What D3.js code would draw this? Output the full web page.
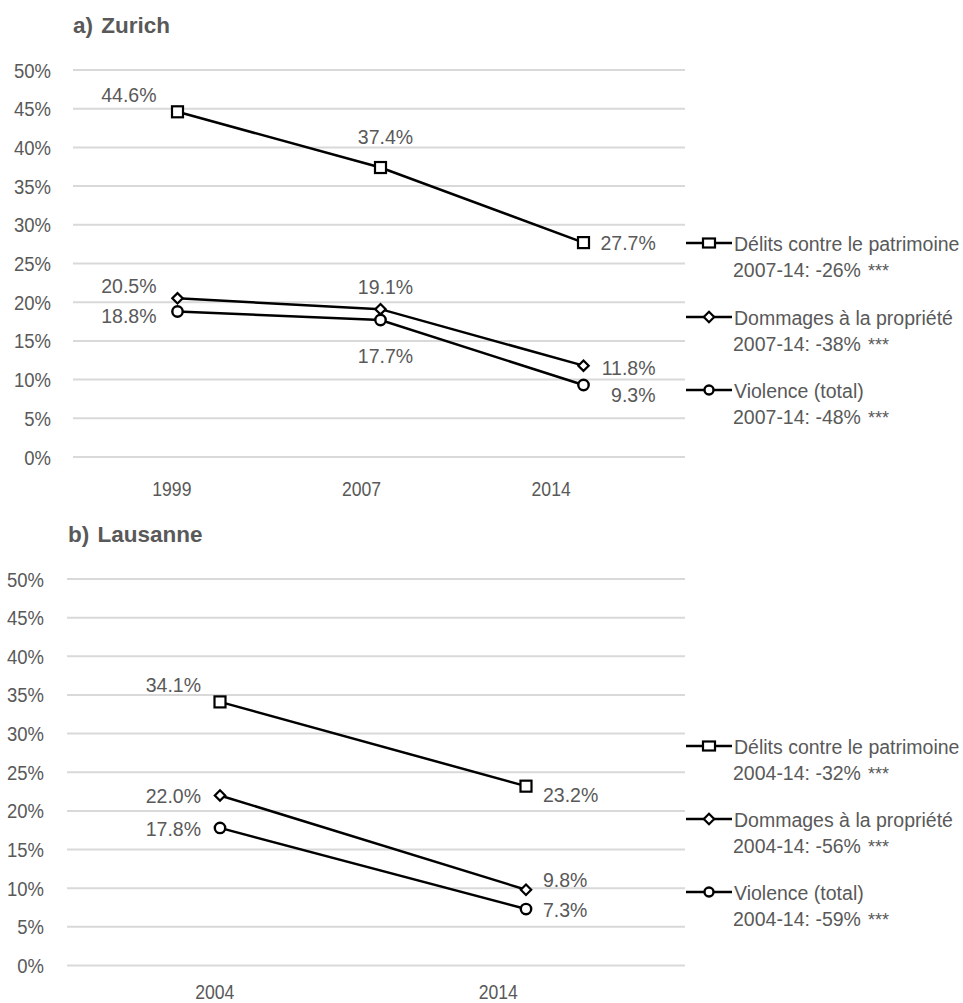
<!DOCTYPE html>
<html>
<head>
<meta charset="utf-8">
<script src="https://cdn.jsdelivr.net/npm/d3@7/dist/d3.min.js"></script>
<style>
  html, body { margin: 0; padding: 0; background: #fff; }
  svg { display: block; }
  text { font-family: "Liberation Sans", Arial, sans-serif; fill: #595959; }
  .title { font-weight: bold; }
</style>
</head>
<body>
<svg id="chart" width="963" height="1003"></svg>
<script>
// ---- data ----
const zurichYears = ["1999", "2007", "2014"];
const zurichProperty = [44.6, 37.4, 27.7];
const zurichDamage = [20.5, 19.1, 11.8];
const zurichViolence = [18.8, 17.7, 9.3];

const lausanneYears = ["2004", "2014"];
const lausanneProperty = [34.1, 23.2];
const lausanneDamage = [22.0, 9.8];
const lausanneViolence = [17.8, 7.3];

const yTicks = [0, 5, 10, 15, 20, 25, 30, 35, 40, 45, 50];
const seriesNames = ["Délits contre le patrimoine", "Dommages à la propriété", "Violence (total)"];
const zurichChange = ["2007-14: -26%", "2007-14: -38%", "2007-14: -48%"];
const lausanneChange = ["2004-14: -32%", "2004-14: -56%", "2004-14: -59%"];
const significance = ["***", "***", "***"];

const svg = d3.select("#chart");
const fmt = v => v.toFixed(1) + "%";

function marker(g, shape, x, y, legend) {
  if (shape === "square") {
    const w = legend ? 12 : 11, h = legend ? 9 : 11;
    g.append("rect").attr("x", x - w / 2).attr("y", y - h / 2).attr("width", w).attr("height", h)
      .attr("fill", "#fff").attr("stroke", "#000").attr("stroke-width", 2.2);
  } else if (shape === "diamond") {
    const s = 5.2;
    g.append("path").attr("d", `M${x},${y - s}L${x + s},${y}L${x},${y + s}L${x - s},${y}Z`)
      .attr("fill", "#fff").attr("stroke", "#000").attr("stroke-width", 2.2);
  } else {
    g.append("circle").attr("cx", x).attr("cy", y).attr("r", legend ? 4.5 : 5.2)
      .attr("fill", "#fff").attr("stroke", "#000").attr("stroke-width", 2.4);
  }
}

function drawPanel(cfg) {
  const g = svg.append("g");
  const y = d3.scaleLinear().domain([0, 50]).range([cfg.yBottom, cfg.yTop]);
  const x = d3.scaleBand().domain(cfg.years).range([cfg.plotLeft, cfg.plotRight]);
  const xLabel = d3.scaleBand().domain(cfg.years).range(cfg.labelRange);
  const cx = d => x(d) + x.bandwidth() / 2;

  // title
  g.append("text").attr("class", "title").attr("x", cfg.titleX).attr("y", cfg.titleY)
    .attr("font-size", 22.5).attr("word-spacing", 2).text(cfg.title);

  // gridlines
  g.selectAll(".grid").data(yTicks).join("line")
    .attr("x1", cfg.gridLeft).attr("x2", cfg.gridRight)
    .attr("y1", d => y(d)).attr("y2", d => y(d))
    .attr("stroke", "#d9d9d9").attr("stroke-width", 2);

  // y axis labels
  const yAxis = d3.axisLeft(y).tickValues(yTicks).tickFormat(d => d + "%").tickSize(0);
  const ya = g.append("g").attr("transform", `translate(${cfg.yLabelX},0)`).call(yAxis);
  ya.attr("font-family", null).attr("font-size", null);
  ya.select(".domain").remove();
  ya.selectAll("text").attr("x", 0).attr("dy", "0.36em").attr("font-size", 19.5)
    .attr("fill", "#595959").attr("transform", "scale(0.95,1)");

  // x axis labels
  const xAxis = d3.axisBottom(xLabel).tickSize(0);
  const xa = g.append("g").attr("transform", `translate(0,${cfg.xLabelY})`).call(xAxis);
  xa.attr("font-family", null).attr("font-size", null);
  xa.select(".domain").remove();
  xa.selectAll("text").attr("y", 0).attr("dy", "0.36em").attr("font-size", 20.5)
    .attr("fill", "#595959").attr("transform", "scale(0.86,1)");

  const shapes = ["square", "diamond", "circle"];
  cfg.series.forEach((vals, i) => {
    const pts = cfg.years.map((yr, j) => [cx(yr), y(vals[j])]);
    g.append("path").attr("d", d3.line()(pts)).attr("fill", "none")
      .attr("stroke", "#000").attr("stroke-width", 2.5);
    pts.forEach(p => marker(g, shapes[i], p[0], p[1], false));
    // value labels
    vals.forEach((v, j) => {
      const pl = cfg.labelPlace[i][j];
      g.append("text").attr("x", pts[j][0] + pl[0]).attr("y", pts[j][1] + pl[1])
        .attr("dy", "0.36em").attr("text-anchor", pl[2]).attr("font-size", 19.5).text(fmt(v));
    });
  });

  // legend
  cfg.legendY.forEach((ly, i) => {
    g.append("line").attr("x1", cfg.legendX).attr("x2", cfg.legendX + 46)
      .attr("y1", ly).attr("y2", ly).attr("stroke", "#000").attr("stroke-width", 2.5);
    marker(g, shapes[i], cfg.legendX + 23, ly, true);
    g.append("text").attr("x", cfg.legendX + 48).attr("y", ly + 1).attr("dy", "0.36em")
      .attr("font-size", 19.5).text(seriesNames[i]);
    const t = g.append("text").attr("x", cfg.legendX + 47).attr("y", ly + 27).attr("dy", "0.36em")
      .attr("font-size", 19.5);
    t.append("tspan").text(cfg.change[i]);
    t.append("tspan").attr("dx", 7).attr("font-size", 18).text(significance[i]);
  });
}

drawPanel({
  title: "a) Zurich", titleX: 73, titleY: 33,
  years: zurichYears,
  series: [zurichProperty, zurichDamage, zurichViolence],
  change: zurichChange,
  yTop: 70, yBottom: 457,
  gridLeft: 73, gridRight: 685,
  plotLeft: 76, plotRight: 685,
  labelRange: [77, 646],
  yLabelX: 51, xLabelY: 489,
  labelPlace: [
    [[-21, -17, "end"], [5, -31, "middle"], [17, 0, "start"]],
    [[-21, -12, "end"], [5, -22, "middle"], [72, 2, "end"]],
    [[-21, 4, "end"], [5, 36, "middle"], [72, 10, "end"]]
  ],
  legendX: 686, legendY: [243, 317, 390]
});

drawPanel({
  title: "b) Lausanne", titleX: 68, titleY: 542,
  years: lausanneYears,
  series: [lausanneProperty, lausanneDamage, lausanneViolence],
  change: lausanneChange,
  yTop: 579, yBottom: 965.5,
  gridLeft: 67, gridRight: 685,
  plotLeft: 67, plotRight: 679,
  labelRange: [73, 640],
  yLabelX: 44, xLabelY: 992,
  labelPlace: [
    [[-19, -17, "end"], [17, 9, "start"]],
    [[-19, 1, "end"], [17, -10, "start"]],
    [[-19, 1, "end"], [17, 1, "start"]]
  ],
  legendX: 686, legendY: [746, 819, 892]
});
</script>
</body>
</html>
